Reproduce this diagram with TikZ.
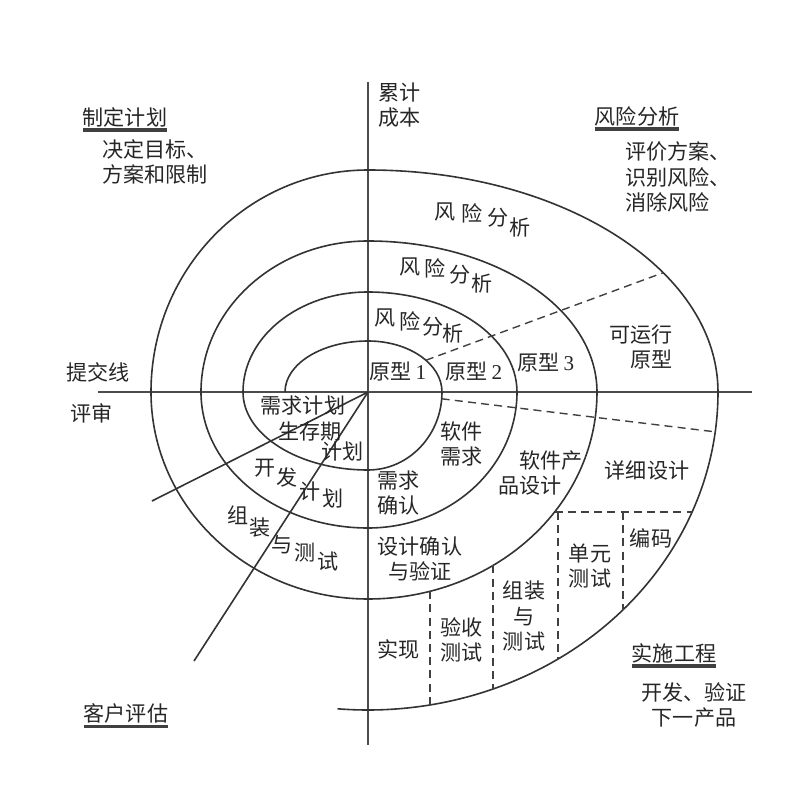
\documentclass[tikz,border=0pt]{standalone}
\usepackage{fontspec}
\setmainfont{Noto Sans CJK SC}
\newfontfamily\numfont{Liberation Serif}

\newcommand{\lblsize}{\fontsize{15pt}{18pt}\selectfont}

\begin{document}
\begin{tikzpicture}[x=0.25mm,y=0.25mm,
  spiral/.style={line width=0.4mm, black!80},
  axisline/.style={line width=0.45mm, black!70},
  guide/.style={line width=0.35mm, black!75, dash pattern=on 2mm off 1.3mm},
  lbl/.style={font=\lblsize, text=black!85, inner sep=0pt, align=center},
  titlebar/.style={line width=0.9mm, black!75}]

  \useasboundingbox (-368,-407) rectangle (431,392);

  % Axes
  \draw[axisline] (-270,0) -- (384,0);
  \draw[axisline] (0,310) -- (0,-353);

  % Spiral, one quarter ellipse per quadrant
  \draw[spiral] (-83,0)
    arc[start angle=180, end angle=90,  x radius=83,  y radius=51]
    arc[start angle=90,  end angle=0,   x radius=74,  y radius=51]
    arc[start angle=0,   end angle=-90, x radius=74,  y radius=78]
    arc[start angle=270, end angle=180, x radius=125, y radius=78]
    arc[start angle=180, end angle=90,  x radius=125, y radius=100]
    arc[start angle=90,  end angle=0,   x radius=149, y radius=100]
    arc[start angle=0,   end angle=-90, x radius=149, y radius=136]
    arc[start angle=270, end angle=180, x radius=167, y radius=136]
    arc[start angle=180, end angle=90,  x radius=167, y radius=151]
    arc[start angle=90,  end angle=0,   x radius=229, y radius=151]
    arc[start angle=0,   end angle=-90, x radius=229, y radius=207]
    arc[start angle=270, end angle=180, x radius=217, y radius=207]
    arc[start angle=180, end angle=90,  x radius=217, y radius=222]
    arc[start angle=90,  end angle=0,   x radius=350, y radius=222]
    arc[start angle=0,   end angle=-95, x radius=350, y radius=318];

  % Rays in the lower left quadrant
  \coordinate (o) at (0,0);
  \coordinate (rayA) at (-216,-109);
  \coordinate (rayB) at (-174,-269);
  \draw[spiral] (o) -- (rayA);
  \draw[spiral] (o) -- (rayB);

  % Dashed dividers
  \draw[guide] ({74*cos(38.5)},{51*sin(38.5)}) -- ({350*cos(32.5)},{222*sin(32.5)});
  \draw[guide] ({74*cos(-5)},{78*sin(-5)}) -- ({350*cos(-7.2)},{318*sin(-7.2)});
  \draw[guide] ({229*sqrt(1-(120/207)^2)},-120) -- ({350*sqrt(1-(120/318)^2)},-120);
  \foreach \xx in {62,125}
    \draw[guide] (\xx,{-207*sqrt(1-(\xx/229)^2)}) -- (\xx,{-318*sqrt(1-(\xx/350)^2)});
  \foreach \xx in {190,255}
    \draw[guide] (\xx,-120) -- (\xx,{-318*sqrt(1-(\xx/350)^2)});

  % Corner titles
  \node[lbl] (plan) at (-243,275) {制定计划};
  \draw[titlebar] ([yshift=-0.8mm]plan.south west) -- ([yshift=-0.8mm]plan.south east);
  \node[lbl, anchor=west, align=left] (plantxt) at (-266,230) {决定目标、\\方案和限制};

  \node[lbl] (risk) at (269,276) {风险分析};
  \draw[titlebar] ([yshift=-0.8mm]risk.south west) -- ([yshift=-0.8mm]risk.south east);
  \node[lbl, anchor=west, align=left] (risktxt) at (257,215) {评价方案、\\识别风险、\\消除风险};

  \node[lbl] (eval) at (-242,-321) {客户评估};
  \draw[titlebar] ([yshift=-0.8mm]eval.south west) -- ([yshift=-0.8mm]eval.south east);

  \node[lbl] (eng) at (306,-261) {实施工程};
  \draw[titlebar] ([yshift=-0.8mm]eng.south west) -- ([yshift=-0.8mm]eng.south east);
  \node[lbl] (engtxt) at (326,-313) {开发、验证\\下一产品};

  % Axis labels
  \node[lbl, anchor=west, align=left] (cost) at (10,287) {累计\\成本};
  \node[lbl] (commit) at (-270,20) {提交线};
  \node[lbl] (review) at (-276,-21) {评审};

  % Risk analysis words, stepped along the arcs
  \foreach \ch/\x/\y [count=\i] in {风/77/180, 险/104/179, 分/130/174, 析/152/165}
    \node[lbl] (raC\i) at (\x,\y) {\ch};
  \foreach \ch/\x/\y [count=\i] in {风/42/125, 险/67/124, 分/92/117, 析/114/109}
    \node[lbl] (raB\i) at (\x,\y) {\ch};
  \foreach \ch/\x/\y [count=\i] in {风/17/74, 险/42/71, 分/65/65, 析/85/59}
    \node[lbl] (raA\i) at (\x,\y) {\ch};

  % Prototypes
  \node[lbl] (proto1) at (30,20) {原型\,{\numfont 1}};
  \node[lbl] (proto2) at (106,20) {原型\,{\numfont 2}};
  \node[lbl] (proto3) at (178,29) {原型\,{\numfont 3}};
  \node[lbl, anchor=east, align=right] (protoR) at (305,45) {可运行\\原型};

  % Lower left: plans
  \node[lbl] (reqplan) at (-65,-14) {需求计划};
  \node[lbl] (life) at (-58,-40) {生存期};
  \node[lbl] (lifeplan) at (-25,-59) {计划};
  \foreach \ch/\x/\y [count=\i] in {开/-103/-76, 发/-81/-85, 计/-58/-100, 划/-35/-106}
    \node[lbl] (dev\i) at (\x,\y) {\ch};
  \foreach \ch/\x/\y [count=\i] in {组/-130/-123, 装/-108/-136, 与/-86/-153, 测/-63/-161, 试/-40/-170}
    \node[lbl] (integ\i) at (\x,\y) {\ch};

  % Lower right: engineering steps
  \node[lbl] (swreq) at (94,-52) {软件\\需求};
  \node[lbl] (reqok) at (31,-101) {需求\\确认};
  \node[lbl, anchor=west, align=left] (prodes) at (130,-81) {\hspace{1em}软件产\\品设计};
  \node[lbl] (detdes) at (279,-78) {详细设计};
  \node[lbl] (desok) at (52,-167) {设计确认\\与验证};
  \node[lbl] (impl) at (31,-257) {实现};
  \node[lbl] (accept) at (94,-248) {验收\\测试};
  \node[lbl] (itest) at (156,-224) {组装\\与\\测试};
  \node[lbl] (utest) at (222,-174) {单元\\测试};
  \node[lbl] (code) at (283,-146) {编码};

\end{tikzpicture}
\end{document}
